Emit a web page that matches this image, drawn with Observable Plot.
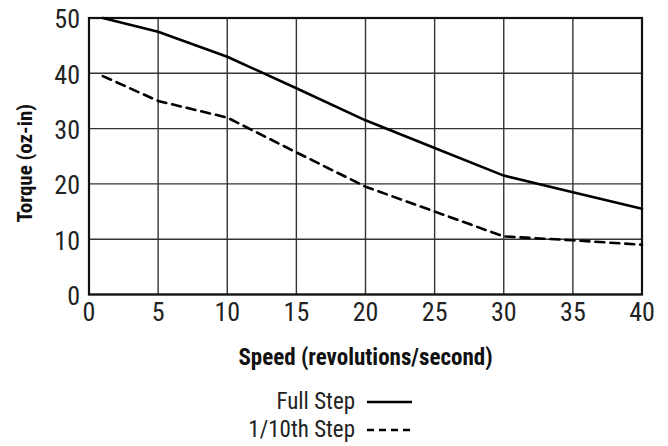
<!DOCTYPE html>
<html>
<head>
<meta charset="utf-8">
<script src="https://cdn.jsdelivr.net/npm/d3@7"></script>
<script src="https://cdn.jsdelivr.net/npm/@observablehq/plot@0.6"></script>
<style>
  html, body { margin: 0; padding: 0; background: #fff; }
  body { width: 668px; height: 446px; overflow: hidden; font-family: "Roboto Condensed", "Liberation Sans Narrow", "DejaVu Sans Condensed", "DejaVu Sans", sans-serif; font-stretch: condensed; }
  .legend { position: relative; width: 668px; height: 76px; }
  .row { position: absolute; left: 0; height: 28px; width: 668px; }
  .row .lab { position: absolute; right: 313px; top: 0; line-height: 28px; font-size: 23px; color: #222; white-space: nowrap; }
  .row svg { position: absolute; left: 366px; top: 0; }
</style>
</head>
<body>
<div id="chart"></div>
<div class="legend" id="legend"></div>
<script>
const speed = [1, 5, 10, 15, 20, 25, 30, 35, 40];
const fullStep = [50, 47.5, 43, 37.3, 31.5, 26.5, 21.5, 18.5, 15.5];
const tenthStep = [39.5, 35, 32, 25.7, 19.5, 15, 10.5, 9.8, 9];
const xTicks = [0, 5, 10, 15, 20, 25, 30, 35, 40];
const yTicks = [0, 10, 20, 30, 40, 50];
const seriesNames = ["Full Step", "1/10th Step"];

const full = speed.map((s, i) => ({speed: s, torque: fullStep[i]}));
const tenth = speed.map((s, i) => ({speed: s, torque: tenthStep[i]}));

const font = '"Roboto Condensed", "Liberation Sans Narrow", "DejaVu Sans Condensed", "DejaVu Sans", sans-serif';

const plot = Plot.plot({
  width: 668,
  height: 370,
  marginLeft: 88.5,
  marginRight: 26.5,
  marginTop: 17.5,
  marginBottom: 76,
  style: {fontFamily: font, fontStretch: "condensed", background: "#fff", color: "#222"},
  x: {domain: [0, 40], ticks: xTicks},
  y: {domain: [0, 50], ticks: yTicks},
  marks: [
    Plot.gridX(xTicks, {stroke: "#333", strokeOpacity: 1, strokeWidth: 1.4}),
    Plot.gridY(yTicks, {stroke: "#333", strokeOpacity: 1, strokeWidth: 1.4}),
    Plot.axisX({ticks: xTicks, tickSize: 0, tickPadding: 8, fontSize: 26, label: null}),
    Plot.axisY({ticks: yTicks, tickSize: 0, tickPadding: 9, fontSize: 26, label: null, dy: 2}),
    Plot.frame({stroke: "#111", strokeWidth: 2.2}),
    Plot.line(full, {x: "speed", y: "torque", stroke: "#000", strokeWidth: 2.6}),
    Plot.line(tenth, {x: "speed", y: "torque", stroke: "#000", strokeWidth: 2.6, strokeDasharray: "9,6"}),
    Plot.text(["Speed (revolutions/second)"], {frameAnchor: "bottom", dy: 70, fontSize: 23, fontWeight: "bold", fill: "#111"}),
    Plot.text(["Torque (oz-in)"], {frameAnchor: "left", textAnchor: "middle", dx: -64, dy: 7, rotate: -90, fontSize: 21, fontWeight: "bold", fill: "#111"})
  ]
});
document.getElementById("chart").appendChild(plot);

const legend = document.getElementById("legend");
seriesNames.forEach((name, i) => {
  const row = document.createElement("div");
  row.className = "row";
  row.style.top = (18 + i * 28) + "px";
  const lab = document.createElement("span");
  lab.className = "lab";
  lab.textContent = name;
  row.appendChild(lab);
  const ns = "http://www.w3.org/2000/svg";
  const svg = document.createElementNS(ns, "svg");
  svg.setAttribute("width", 48);
  svg.setAttribute("height", 28);
  const ln = document.createElementNS(ns, "line");
  ln.setAttribute("x1", 1); ln.setAttribute("x2", 46);
  ln.setAttribute("y1", 14); ln.setAttribute("y2", 14);
  ln.setAttribute("stroke", "#000");
  ln.setAttribute("stroke-width", 2.6);
  if (i === 1) ln.setAttribute("stroke-dasharray", "7,5");
  svg.appendChild(ln);
  row.appendChild(svg);
  legend.appendChild(row);
});
</script>
</body>
</html>
